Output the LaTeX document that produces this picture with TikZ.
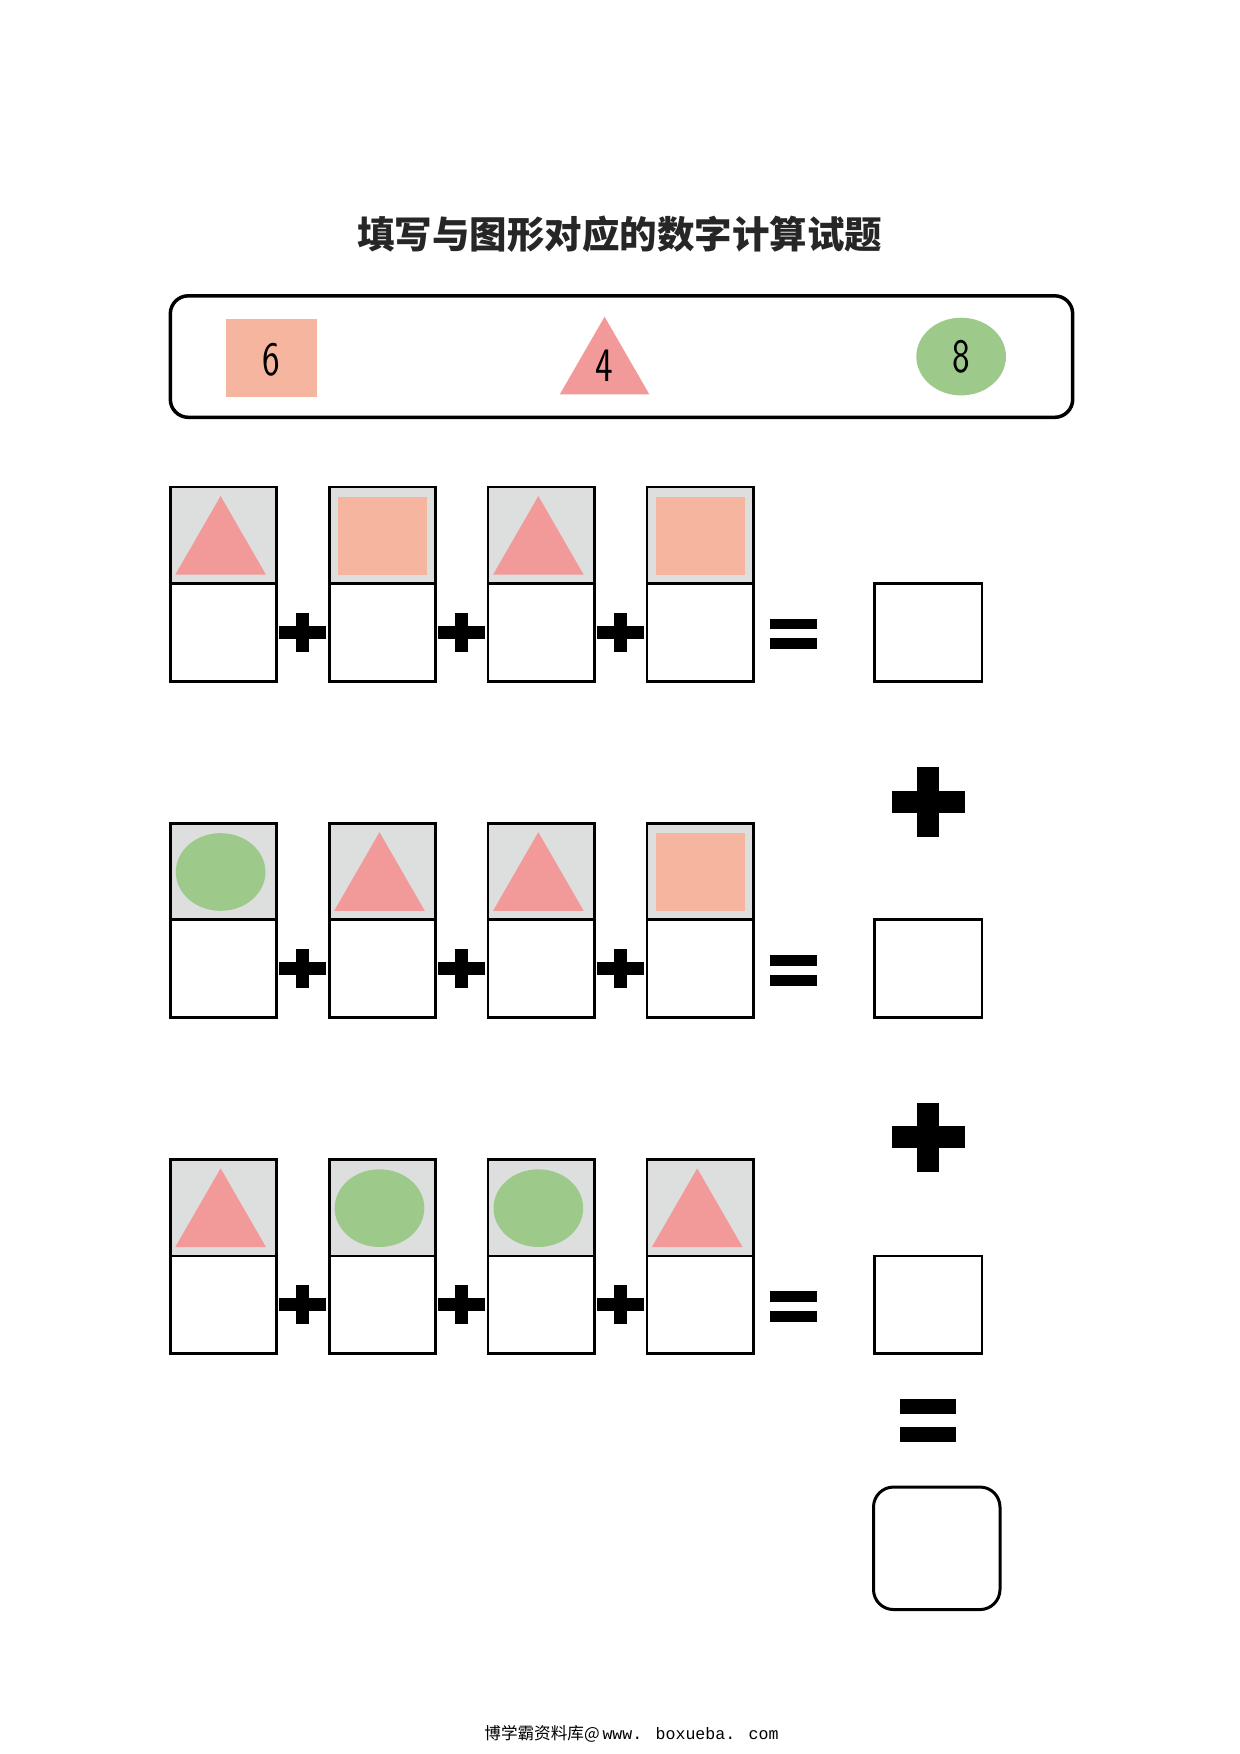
\documentclass[tikz,border=0pt]{standalone}
\usepackage{fontspec}
\newfontfamily\cjk{Noto Sans CJK SC}
\newfontfamily\urlfont{Liberation Mono}
\usetikzlibrary{positioning}

\definecolor{sqcol}{RGB}{245,181,158}
\definecolor{tricol}{RGB}{242,154,154}
\definecolor{ellcol}{RGB}{157,201,139}
\definecolor{cardgray}{RGB}{221,222,222}

\tikzset{
  cardline/.style={line width=1.4pt},
  digit/.style={font=\fontsize{24}{24}\selectfont\sffamily, inner sep=0pt, xscale=0.78}
}

% shapes inside a card, #1 = left edge, #2 = top edge
\newcommand\cardtri[2]{\fill[tricol] (#1+5,#2+88) -- (#1+50.5,#2+9) -- (#1+96,#2+88) -- cycle;}
\newcommand\cardsq[2]{\fill[sqcol] (#1+9,#2+10) rectangle (#1+98,#2+88);}
\newcommand\cardell[2]{\fill[ellcol] (#1+50.5,#2+49) ellipse (45 and 39);}
% plus sign: centre x, centre y, half width, half height, half thickness
\newcommand\plussign[5]{\fill (#1-#3,#2-#5) rectangle (#1+#3,#2+#5);
  \fill (#1-#5,#2-#4) rectangle (#1+#5,#2+#4);}

\begin{document}
\begin{tikzpicture}[x=0.5pt,y=-0.5pt]
\useasboundingbox (0,0) rectangle (1240,1754);
\begin{scope}[scale=0.996]

% title
\node[text=black!85] (title) at (622,235) {\fontsize{18.75}{18.75}\selectfont\cjk\bfseries 填写与图形对应的数字计算试题};

% legend
\draw[line width=1.75pt, rounded corners=9pt] (171,297) rectangle (1077,419);
\fill[sqcol] (227,320) rectangle (318,399);
\fill[tricol] (562,396) -- (607,318) -- (652,396) -- cycle;
\fill[ellcol] (965,358) ellipse (45 and 39);
\node[digit] (six) at (272,361) {6};
\node[digit] (four) at (607,367) {4};
\node[digit] (eight) at (965,358) {8};

% three rows of cards
\foreach \shapes [count=\r from 0] in {{tri,sq,tri,sq},{ell,tri,tri,sq},{tri,ell,ell,tri}} {
  \pgfmathsetmacro\T{489+337.5*\r}
  \foreach \s [count=\i from 0] in \shapes {
    \pgfmathsetmacro\L{171+159.5*\i}
    \fill[cardgray] (\L,\T) rectangle ++(107,97);
    \csname card\s\endcsname{\L}{\T}
    \draw[cardline] (\L,\T) rectangle ++(107,195);
    \draw[cardline] (\L,\T+97) -- ++(107,0);
  }
  \foreach \i in {0,1,2} {
    \plussign{304+159.5*\i}{\T+146}{23.5}{19.5}{6.5}
  }
  % equals and result box
  \fill (773,\T+132) rectangle (820,\T+143);
  \fill (773,\T+152) rectangle (820,\T+163);
  \draw[cardline] (878,\T+97) rectangle (986,\T+195);
}

% big signs down the right
\plussign{932}{805}{36.5}{35}{11}
\plussign{932}{1142}{36.5}{35}{11}
\fill (904,1405) rectangle (960,1420);
\fill (904,1433) rectangle (960,1448);
\draw[line width=1.5pt, rounded corners=10pt] (877,1493) rectangle (1004,1616);

% footer
\node (footer) at (634,1741) {\fontsize{8.3}{8.3}\selectfont\cjk 博学霸资料库@\,\urlfont www. boxueba. com};
\end{scope}
\end{tikzpicture}
\end{document}
